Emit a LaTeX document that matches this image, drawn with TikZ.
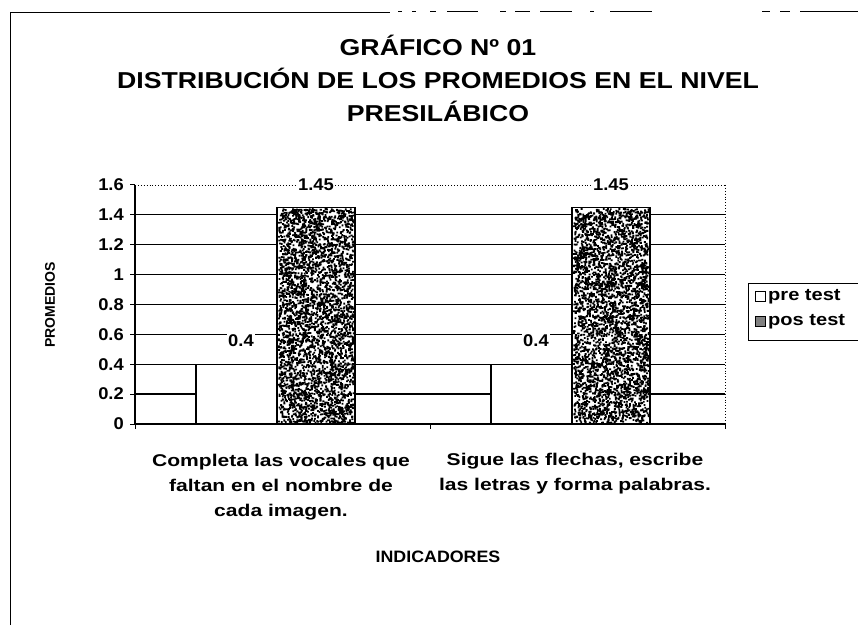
\documentclass[tikz,border=0pt]{standalone}
\usepackage{fontspec}
\setmainfont{Liberation Sans}
\newfontfamily\ttlfont[FakeStretch=1.16]{Liberation Sans}
\newfontfamily\lblfont[FakeStretch=1.24]{Liberation Sans}
\newfontfamily\tckfont[FakeStretch=1.08]{Liberation Sans}
\newfontfamily\lgdfont[FakeStretch=1.18]{Liberation Sans}
\begin{document}
\begin{tikzpicture}[x=1pt,y=-1pt,
  titletext/.style={font=\ttlfont\bfseries\fontsize{23}{33}\selectfont, align=center, inner sep=0},
  ticklabel/.style={font=\tckfont\bfseries\fontsize{17}{17}\selectfont, anchor=east, inner sep=0},
  catlabel/.style={font=\lblfont\bfseries\fontsize{17}{25}\selectfont, align=center, inner sep=0},
  vallabel/.style={font=\tckfont\bfseries\fontsize{17}{17}\selectfont, fill=white, inner sep=1.5pt},
  legtext/.style={font=\lgdfont\bfseries\fontsize{17}{17}\selectfont, anchor=west, inner sep=0},
  ytitlestyle/.style={font=\bfseries\fontsize{14}{14}\selectfont, inner sep=0},
  xtitlestyle/.style={font=\tckfont\bfseries\fontsize{16.5}{16.5}\selectfont, inner sep=0},
  gridline/.style={line width=1.3pt},
  dotline/.style={line width=0.9pt, dotted},
  barbox/.style={draw, line width=1.4pt, fill=white},
  framedash/.style={line width=1pt}
]
\useasboundingbox (0,0) rectangle (858,625);
\fill[white] (0,0) rectangle (858,625);

% outer frame (scanned, partly broken on top)
\coordinate (ftl) at (10,12);
\coordinate (fbl) at (10,625);
\coordinate (ftm) at (390,12);
\draw[framedash] (fbl) -- (ftl) -- (ftm);
\foreach \a/\b in {398/402,412/416,430/436,447/478,500/506,515/530,540/572,590/594,610/652,762/770,780/790,800/858}
  \draw[line width=0.7pt] (\a,11) -- (\b,11);

% title
\node[titletext] (title) at (438,78) {GRÁFICO Nº 01\\DISTRIBUCIÓN DE LOS PROMEDIOS EN EL NIVEL\\PRESILÁBICO};

% plot area
\def\yo{424}
\def\ys{149.4}
\foreach \v in {0.2,0.4,0.6,0.8,1.0,1.2,1.4}
  \draw[gridline] (135,{\yo-\v*\ys}) -- (725,{\yo-\v*\ys});
\draw[dotline] (135,{\yo-1.6*\ys}) -- (725,{\yo-1.6*\ys});
\draw[dotline] (725,{\yo-1.6*\ys}) -- (725,\yo);

% bars
\draw[barbox] (196,\yo) rectangle (277,{\yo-0.4*\ys});
\draw[barbox] (491,\yo) rectangle (572,{\yo-0.4*\ys});
\draw[barbox] (277,\yo) rectangle (355,{\yo-1.45*\ys});
\draw[barbox] (572,\yo) rectangle (650,{\yo-1.45*\ys});
\pgfmathsetseed{7}
\fill[black] \foreach \i in {1,...,3800} { ({278+75*rnd},{208+214*rnd}) rectangle ++(1.8,1.8) };
\fill[black] \foreach \i in {1,...,3800} { ({573+75*rnd},{208+214*rnd}) rectangle ++(1.8,1.8) };
\draw[line width=1.4pt] (277,\yo) rectangle (355,{\yo-1.45*\ys});
\draw[line width=1.4pt] (572,\yo) rectangle (650,{\yo-1.45*\ys});

% axes
\draw[line width=1.4pt] (135,{\yo-1.6*\ys}) -- (135,\yo) -- (725,\yo);
\foreach \v/\t in {0/0,0.2/0.2,0.4/0.4,0.6/0.6,0.8/0.8,1/1,1.2/1.2,1.4/1.4,1.6/1.6} {
  \draw[line width=1pt] (130,{\yo-\v*\ys}) -- (135,{\yo-\v*\ys});
  \node[ticklabel] (tick\t) at (124,{\yo-\v*\ys}) {\t};
}
\foreach \x in {135,430,725}
  \draw[line width=1pt] (\x,\yo) -- (\x,{\yo+5});

% value labels
\node[vallabel] (v1) at (241,{\yo-0.56*\ys}) {0.4};
\node[vallabel] (v2) at (536,{\yo-0.56*\ys}) {0.4};
\node[vallabel] (v3) at (316,{\yo-1.6*\ys}) {1.45};
\node[vallabel] (v4) at (611,{\yo-1.6*\ys}) {1.45};

% axis titles
\node[ytitlestyle, rotate=90] (ytitle) at (50,305) {PROMEDIOS};
\node[xtitlestyle] (xtitle) at (438,557) {INDICADORES};

% category labels
\node[catlabel] (cat1) at (281,487) {Completa las vocales que\\faltan en el nombre de\\cada imagen.};
\node[catlabel, anchor=north] (cat2) at (575,453) {Sigue las flechas, escribe\\las letras y forma palabras.};

% legend
\node[draw, line width=1pt, minimum width=125pt, minimum height=57pt, anchor=north west] (legend) at (748,283) {};
\draw[line width=1pt, fill=white] (755,291) rectangle (765,301);
\node[legtext] (l1) at (768,297) {pre test};
\draw[line width=1pt, fill=black!50] (755,316) rectangle (765,326);
\node[legtext] (l2) at (768,322) {pos test};
\end{tikzpicture}
\end{document}
